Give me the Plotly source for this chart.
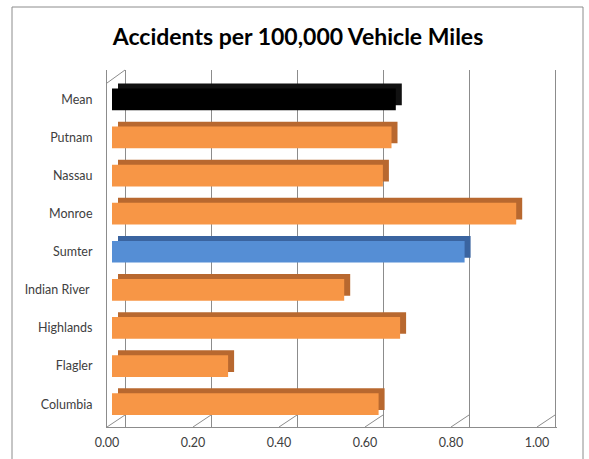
import plotly.graph_objects as go

# Values (bottom to top, as plotted)
counties = ["Columbia", "Flagler", "Highlands", "Indian River ", "Sumter",
            "Monroe", "Nassau", "Putnam", "Mean"]
accidents = [0.62, 0.27, 0.67, 0.54, 0.82, 0.94, 0.63, 0.65, 0.66]
x_ticks = [0.0, 0.2, 0.4, 0.6, 0.8, 1.0]
x_tick_labels = ["0.00", "0.20", "0.40", "0.60", "0.80", "1.00"]

ORANGE = "#F79646"
ORANGE_DARK = "#B8682F"
BLUE = "#558ED5"
BLUE_DARK = "#3A64A0"
BLACK = "#000000"
GRID = "#8C8C8C"
TEXT = "#404040"


def face_color(name):
    if name.strip() == "Mean":
        return BLACK
    if name.strip() == "Sumter":
        return BLUE
    return ORANGE


def side_color(name):
    if name.strip() == "Mean":
        return "#111111"
    if name.strip() == "Sumter":
        return BLUE_DARK
    return ORANGE_DARK


# plot area geometry in pixels (window 589 x 459)
L, R, T, B = 107, 557, 70, 427
PX_PER_UNIT = 430.0
plot_w = R - L
plot_h = B - T
DEPTH = 18 / PX_PER_UNIT      # back wall offset
BAR_SHIFT = 5 / PX_PER_UNIT   # bars sit a little behind the front plane
DX = 6 / PX_PER_UNIT          # bar side depth
DY = 0.13                     # bar top depth (category units)
WIDTH = 0.57

fig = go.Figure()

# invisible trace so the back-wall axis (x2) draws its gridlines
fig.add_trace(go.Scatter(x=[0], y=[counties[0]], xaxis="x2", mode="markers",
                         marker=dict(opacity=0), hoverinfo="skip", showlegend=False))

# darker "top / side" faces, drawn behind
fig.add_trace(go.Bar(
    y=counties, x=accidents, base=DX, orientation="h",
    width=WIDTH, offset=-WIDTH / 2 + DY,
    marker=dict(color=[side_color(c) for c in counties], line=dict(width=0)),
    xaxis="x3", hoverinfo="skip", showlegend=False,
))
# front faces
fig.add_trace(go.Bar(
    y=counties, x=accidents, orientation="h",
    width=WIDTH, offset=-WIDTH / 2,
    marker=dict(color=[face_color(c) for c in counties], line=dict(width=0)),
    xaxis="x3", hovertemplate="%{y}: %{x:.2f}<extra></extra>", showlegend=False,
))

# floor diagonals and wall edges (decoration)
shapes = []
for t in x_ticks:
    shapes.append(dict(type="line", xref="x", yref="paper",
                       x0=t, y0=0, x1=t + DEPTH, y1=12 / plot_h,
                       line=dict(color=GRID, width=1), layer="below"))
shapes.append(dict(type="line", xref="x", yref="paper",
                   x0=0, y0=(B - 83) / plot_h, x1=DEPTH, y1=1,
                   line=dict(color=GRID, width=1)))
# outer chart border
shapes.append(dict(type="rect", xref="paper", yref="paper",
                   x0=(12 - L) / plot_w, x1=(583 - L) / plot_w,
                   y0=(B - 470) / plot_h, y1=(B - 7) / plot_h,
                   line=dict(color="#8C8C8C", width=1), fillcolor="rgba(0,0,0,0)",
                   layer="below"))

fig.update_layout(
    width=589, height=459,
    margin=dict(l=L, r=589 - R, t=T, b=459 - B, autoexpand=False),
    paper_bgcolor="white", plot_bgcolor="white",
    barmode="overlay",
    font=dict(family="Lato, 'Open Sans', sans-serif", color=TEXT, size=12),
    title=dict(text="<b>Accidents per 100,000 Vehicle Miles</b>",
               x=0.506, xanchor="center", y=0.919, yanchor="middle",
               font=dict(size=23, color="#000000")),
    xaxis=dict(range=[0, plot_w / PX_PER_UNIT], tickvals=x_ticks, ticktext=x_tick_labels,
               showgrid=False, zeroline=False, showline=True, linecolor=GRID,
               ticks="", ticklabelstandoff=4, tickfont=dict(size=12.5, color=TEXT),
               automargin=False, fixedrange=True),
    xaxis2=dict(range=[-DEPTH, plot_w / PX_PER_UNIT - DEPTH], overlaying="x",
                tickvals=x_ticks, showticklabels=False, showgrid=True,
                gridcolor=GRID, gridwidth=1, zeroline=False, showline=False,
                automargin=False),
    xaxis3=dict(range=[-BAR_SHIFT, plot_w / PX_PER_UNIT - BAR_SHIFT], overlaying="x",
                showticklabels=False, showgrid=False, zeroline=False, showline=False,
                automargin=False),
    yaxis=dict(range=[-0.6, 8.77], showgrid=False, zeroline=False,
               showline=True, linecolor=GRID, ticks="", ticklabelstandoff=11,
               tickfont=dict(size=12.5, color=TEXT), automargin=False, fixedrange=True),
    shapes=shapes,
)

# the page body has a default 8px margin; drop it so the chart fills the window
fig.write_html("out.html", config={"displayModeBar": False},
               post_script="document.body.style.margin='0';")
